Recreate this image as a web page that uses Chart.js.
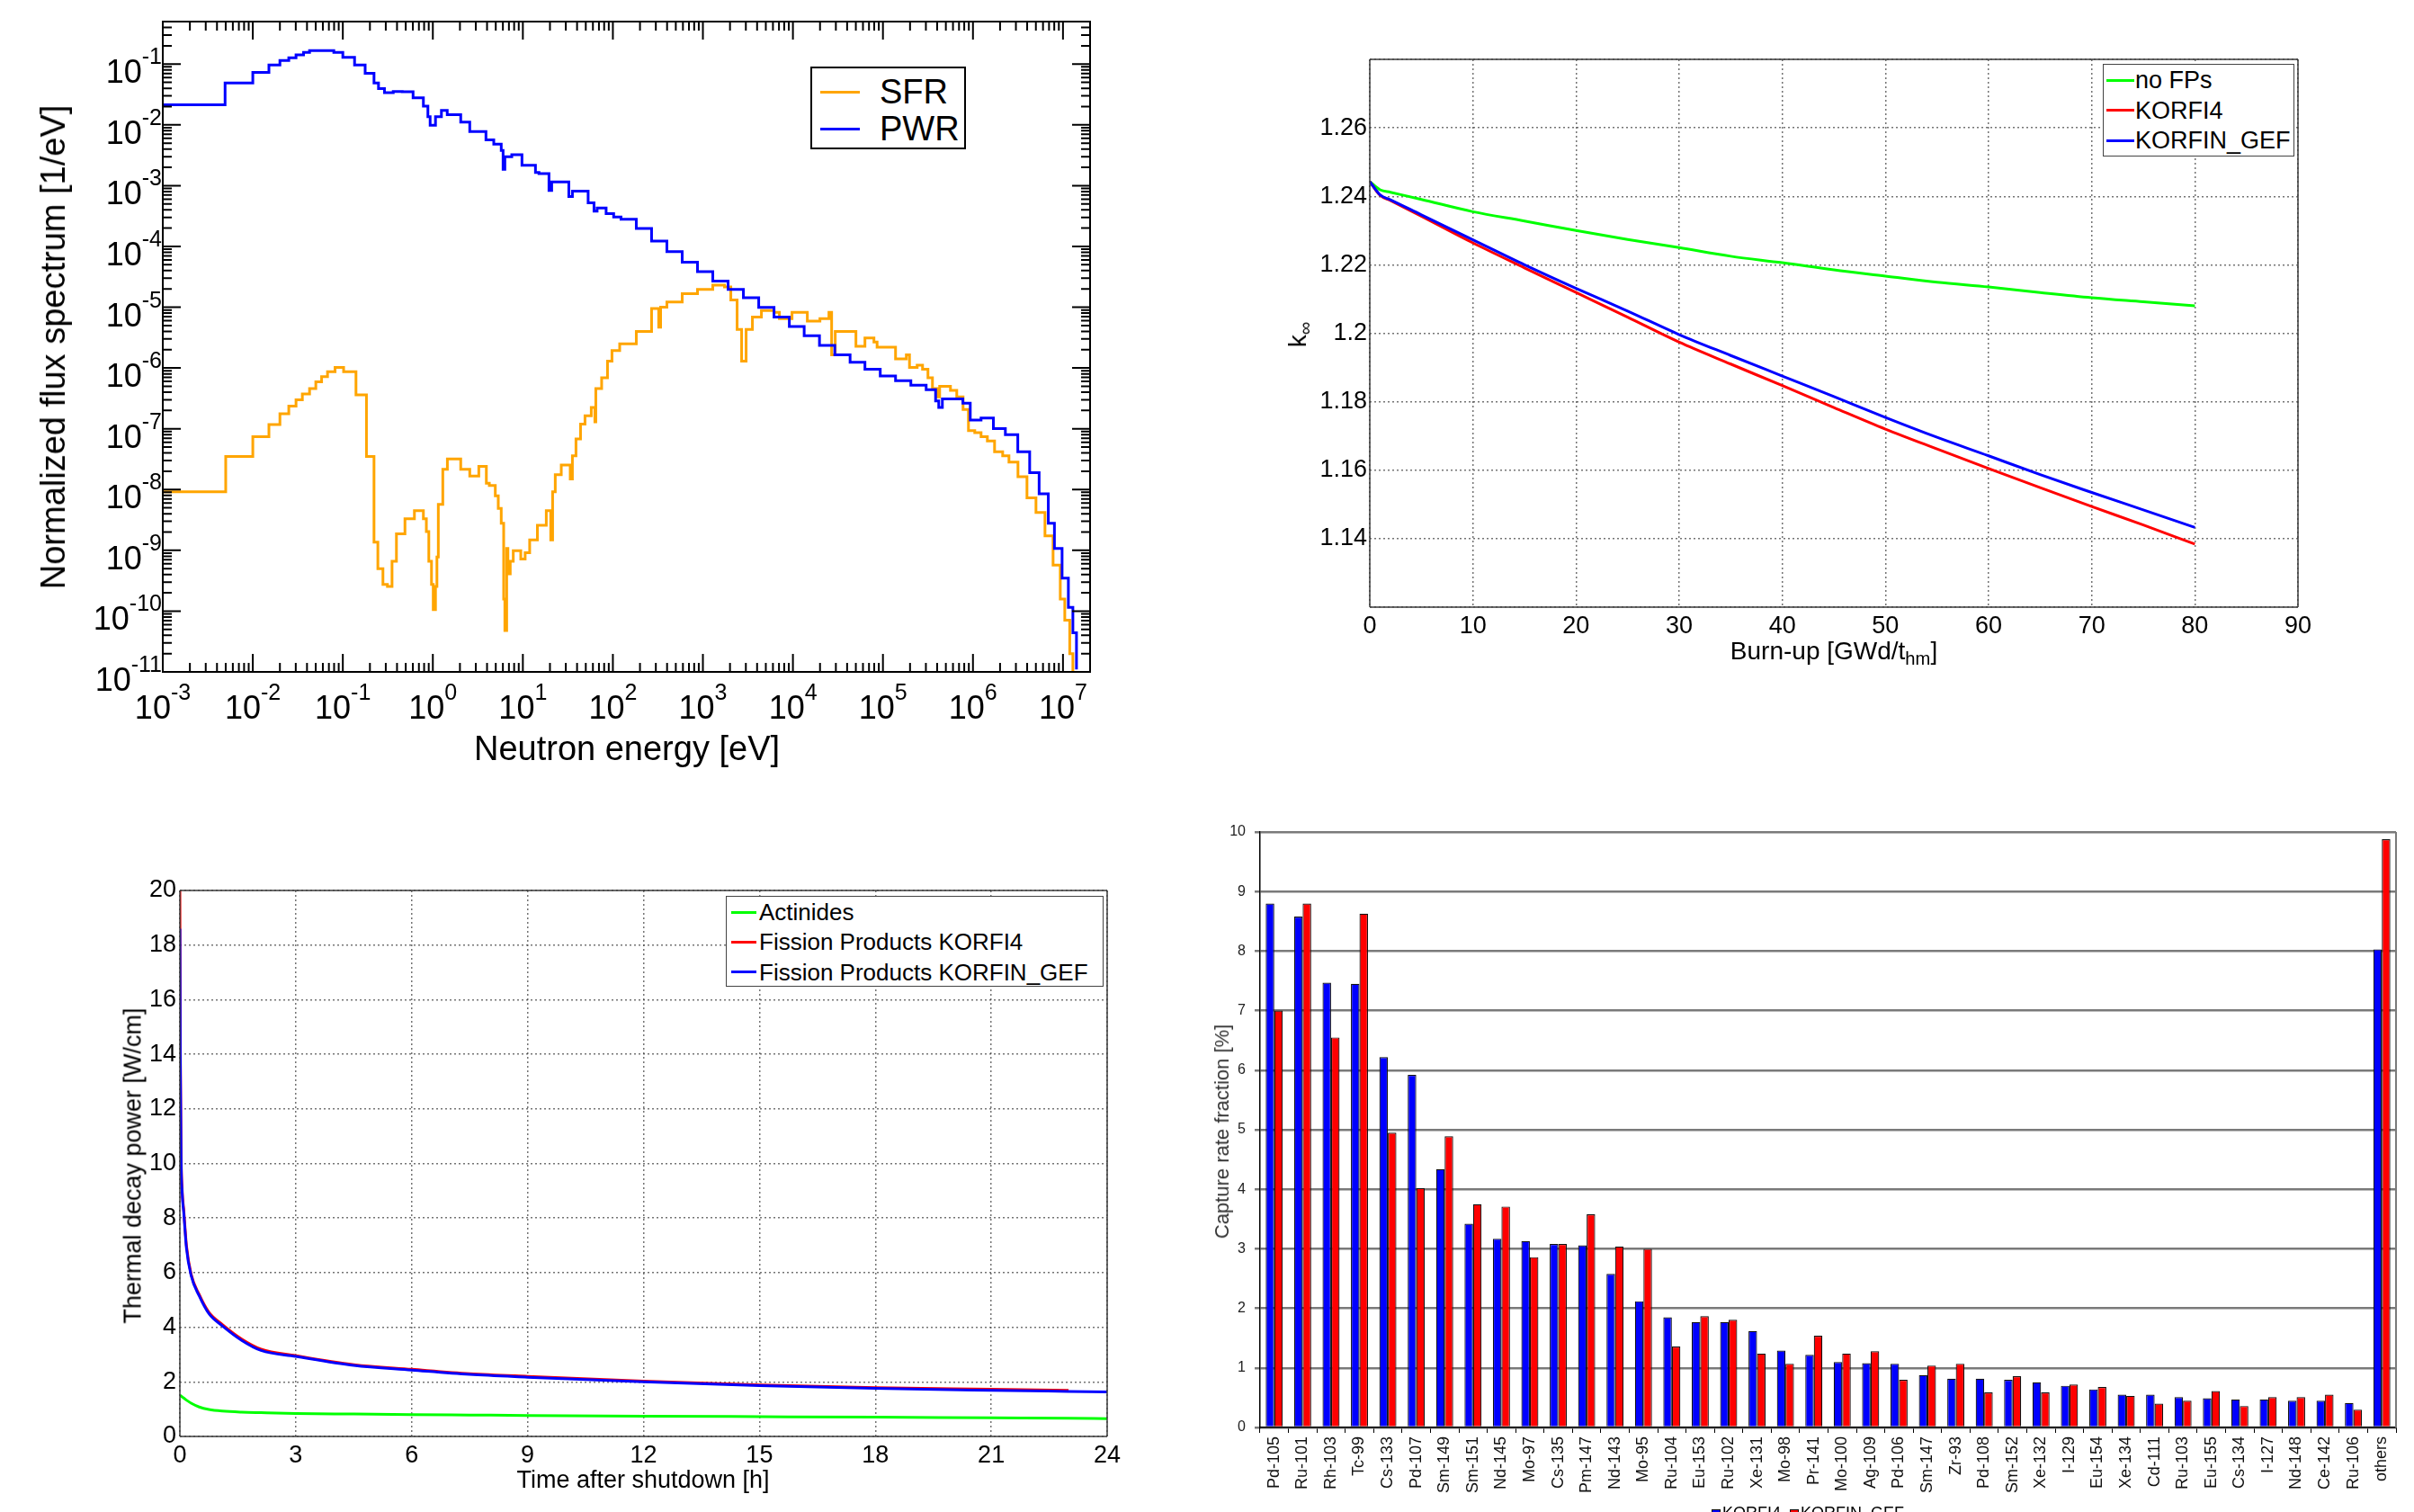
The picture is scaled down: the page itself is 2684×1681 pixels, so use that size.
<!DOCTYPE html>
<html>
<head>
<meta charset="utf-8">
<script src="https://cdn.jsdelivr.net/npm/chart.js@4.4.1/dist/chart.umd.min.js"></script>
<style>
  html, body { margin: 0; padding: 0; background: #fff; }
  body {
    width: 2684px; height: 1681px; position: relative; overflow: hidden;
    font-family: "Liberation Sans", Arial, Helvetica, sans-serif; color: #000;
  }
  canvas { position: absolute; }
  .lbl { position: absolute; white-space: nowrap; line-height: 1; }
  .ctr { transform: translate(-50%, -50%); }
  .rot { transform: translate(-50%, -50%) rotate(-90deg); }
  .legend { position: absolute; background: #fff; box-sizing: border-box; }
  .lg-row { position: absolute; left: 0; right: 0; height: 0; }
  .lg-row span { position: absolute; }
  .lg-text { top: 0; transform: translateY(-50%); line-height: 1; white-space: nowrap; }
  sub { font-size: 0.72em; vertical-align: -0.32em; line-height: 0; }
</style>
</head>
<body>

<canvas id="flux" width="1240" height="870" style="left:0;top:0;width:1240px;height:870px"></canvas>
<canvas id="keff" width="1300" height="740" style="left:1380px;top:30px;width:1300px;height:740px"></canvas>
<canvas id="decay" width="1150" height="721" style="left:100px;top:960px;width:1150px;height:721px"></canvas>
<canvas id="capture" width="1364" height="781" style="left:1320px;top:900px;width:1364px;height:781px"></canvas>

<!-- axis titles -->
<div class="lbl rot" style="left:59px;top:386px;font-size:38px">Normalized flux spectrum [1/eV]</div>
<div class="lbl ctr" style="left:697px;top:832px;font-size:38px">Neutron energy [eV]</div>

<div class="lbl rot" style="left:1443px;top:372px;font-size:28px">k<sub>∞</sub></div>
<div class="lbl ctr" style="left:2039px;top:724px;font-size:28px">Burn-up [GWd/t<sub>hm</sub>]</div>

<div class="lbl rot" style="left:148px;top:1296px;font-size:27px">Thermal decay power [W/cm]</div>
<div class="lbl ctr" style="left:715px;top:1645px;font-size:27px">Time after shutdown [h]</div>

<div class="lbl rot" style="left:1359px;top:1258px;font-size:22px;color:#333">Capture rate fraction [%]</div>

<div id="lg-flux" class="legend" style="left:901px;top:74px;width:173px;height:92px;border:2px solid #000"></div>
<div id="lg-keff" class="legend" style="left:2338px;top:71px;width:213px;height:103px;border:1.5px solid #444"></div>
<div id="lg-decay" class="legend" style="left:807px;top:996px;width:420px;height:101px;border:1.5px solid #444"></div>
<div id="lg-capture" class="lbl" style="left:1903px;top:1673px;font-size:18px"></div>

<script>
// ---- flux spectrum (eV, 1/eV), bin start energies for a step histogram ----
const fluxXDecades = [-3, -2, -1, 0, 1, 2, 3, 4, 5, 6, 7];
const fluxYDecades = [-11, -10, -9, -8, -7, -6, -5, -4, -3, -2, -1];

const sfrEnergy = [
  1e-3, 5.0e-3, 1e-2, 1.51e-2, 2.0e-2, 2.51e-2, 3.02e-2, 3.55e-2, 4.27e-2, 5.01e-2,
  5.81e-2, 6.76e-2, 8.2e-2, 0.102, 0.14, 0.183, 0.222, 0.245, 0.279, 0.313,
  0.352, 0.394, 0.49, 0.624, 0.785, 0.847, 0.902, 0.966, 1.01, 1.07,
  1.11, 1.15, 1.29, 1.45, 2.04, 2.57, 3.24, 3.93, 4.24, 4.94,
  5.33, 5.75, 6.12, 6.31, 6.61, 6.82, 7.24, 7.82, 9.48, 10.6,
  11.9, 14.5, 18.2, 20.4, 21.4, 22.9, 26.7, 33.6, 35.5, 38.9,
  43.7, 49.0, 57.5, 63.1, 64.6, 75, 87.1, 97.7, 119, 182,
  269, 323, 339, 398, 589, 871, 1288, 1738, 2042, 2399,
  2692, 3020, 3548, 4467, 6166, 7079, 9772, 14454, 19953, 25119,
  26915, 29512, 50119, 63096, 79433, 86099, 138038, 181970, 197242, 239883,
  275423, 316228, 354813, 398107, 426580, 562341, 660693, 776247, 891251, 1047129,
  1230269, 1445440, 1737801, 2137962, 2511886, 3162278, 3981072, 5011872, 6309573, 7762471,
  9332543, 10471285, 11885022, 12882496
];
const sfrFlux = [
  9.2e-9, 3.5e-8, 7.4e-8, 1.17e-7, 1.77e-7, 2.36e-7, 3.0e-7, 3.75e-7, 4.6e-7, 5.9e-7,
  7.2e-7, 8.7e-7, 1.02e-6, 8.7e-7, 3.6e-7, 3.5e-8, 1.36e-9, 5.0e-10, 2.76e-10, 2.55e-10,
  6.6e-10, 1.87e-9, 3.3e-9, 4.5e-9, 3.3e-9, 2.03e-9, 6.6e-10, 2.76e-10, 1.06e-10, 2.55e-10,
  7.8e-10, 5.7e-9, 2.15e-8, 3.2e-8, 2.15e-8, 1.67e-8, 2.41e-8, 1.27e-8, 1.17e-8, 7.9e-9,
  4.9e-9, 2.8e-9, 1.58e-10, 4.8e-11, 1.07e-9, 4.1e-10, 6.6e-10, 9.9e-10, 7.2e-10, 9.1e-10,
  1.48e-9, 2.58e-9, 4.5e-9, 1.48e-9, 9.2e-9, 1.75e-8, 2.53e-8, 1.49e-8, 3.6e-8, 6.8e-8,
  1.19e-7, 1.63e-7, 2.25e-7, 1.3e-7, 4.6e-7, 6.9e-7, 1.3e-6, 1.94e-6, 2.5e-6, 4.0e-6,
  9.5e-6, 4.7e-6, 1.0e-5, 1.22e-5, 1.67e-5, 1.96e-5, 2.3e-5, 2.15e-5, 1.32e-5, 4.3e-6,
  1.3e-6, 4.3e-6, 6.9e-6, 8.8e-6, 8.2e-6, 6.5e-6, 8.2e-6, 5.9e-6, 6.5e-6, 8.2e-6,
  1.65e-6, 4.0e-6, 2.27e-6, 3.13e-6, 2.67e-6, 2.2e-6, 1.41e-6, 1.65e-6, 1.02e-6, 1.11e-6,
  9.5e-7, 6.9e-7, 4.6e-7, 3.35e-7, 5.0e-7, 4.3e-7, 3.35e-7, 2.07e-7, 9.3e-8, 8.6e-8,
  7.4e-8, 6.3e-8, 4.2e-8, 3.6e-8, 2.83e-8, 1.62e-8, 7.3e-9, 4.2e-9, 1.73e-9, 5.7e-10,
  1.58e-10, 7.1e-11, 2.0e-11, 1e-11
];

const pwrEnergy = [
  1e-3, 4.92e-3, 1e-2, 1.51e-2, 2.0e-2, 2.51e-2, 3.02e-2, 3.66e-2, 4.27e-2, 7.94e-2,
  0.1, 0.135, 0.177, 0.222, 0.249, 0.29, 0.363, 0.457, 0.603, 0.785,
  0.881, 0.933, 1.07, 1.245, 1.445, 2.04, 2.57, 3.89, 4.75, 5.75,
  6.03, 6.31, 7.53, 9.77, 13.8, 15.1, 19.5, 20.9, 32.4, 35.5,
  53.1, 61.7, 66.8, 84.1, 102, 123, 182, 269, 398, 589,
  871, 1288, 1905, 2818, 4169, 6166, 9120, 13335, 19724, 29174,
  43152, 63096, 93325, 138038, 204174, 301995, 384592, 416869, 457088, 772681,
  933254, 1230269, 1686553, 2290868, 3147748, 4265795, 5432503, 6870684, 8035261, 9772372,
  11481536, 12882496, 14125375
];
const pwrFlux = [
  0.0213, 0.0488, 0.0727, 0.097, 0.115, 0.127, 0.142, 0.156, 0.167, 0.156,
  0.129, 0.097, 0.0705, 0.0488, 0.0396, 0.0338, 0.0355, 0.035, 0.0279, 0.0203,
  0.0136, 0.00988, 0.0136, 0.0173, 0.0147, 0.0111, 0.00778, 0.00566, 0.00482, 0.0038,
  0.00185, 0.00298, 0.00323, 0.00217, 0.00164, 0.00158, 8.3e-4, 1.15e-3, 6.6e-4, 8.1e-4,
  5.2e-4, 3.8e-4, 4.3e-4, 3.47e-4, 3.05e-4, 2.8e-4, 1.98e-4, 1.23e-4, 8.2e-5, 5.5e-5,
  3.84e-5, 2.7e-5, 1.96e-5, 1.43e-5, 9.9e-6, 6.9e-6, 4.8e-6, 3.4e-6, 2.35e-6, 1.65e-6,
  1.24e-6, 9.5e-7, 7.4e-7, 6.2e-7, 5.2e-7, 4.4e-7, 2.86e-7, 2.25e-7, 3.1e-7, 2.63e-7,
  1.39e-7, 1.5e-7, 1.01e-7, 8.0e-8, 4.2e-8, 1.9e-8, 8.5e-9, 2.8e-9, 1.07e-9, 3.5e-10,
  1.15e-10, 4.4e-11, 1.1e-11
];

// ---- k-infinity vs burn-up ----
const burnup = [0, 1, 2, 5, 10, 15, 20, 25, 30, 35, 40, 45, 50, 55, 60, 65, 70, 75, 80];
const kNoFp = [1.2443, 1.2419, 1.2412, 1.2391, 1.2355, 1.2328, 1.2300, 1.2274, 1.2250, 1.2225,
  1.2206, 1.2185, 1.2167, 1.2149, 1.2135, 1.2119, 1.2104, 1.2092, 1.2080];
const kKorfi4 = [1.2443, 1.2403, 1.2388, 1.2342, 1.2264, 1.2191, 1.2119, 1.2047, 1.1974, 1.1910,
  1.1847, 1.1783, 1.1720, 1.1662, 1.1605, 1.1549, 1.1494, 1.1440, 1.1384];
const kKorfinGef = [1.2443, 1.2404, 1.2390, 1.2346, 1.2273, 1.2200, 1.2131, 1.2065, 1.1996, 1.1935,
  1.1875, 1.1815, 1.1754, 1.1696, 1.1642, 1.1587, 1.1535, 1.1484, 1.1433];

// ---- decay power after shutdown ----
const decayTime = [0, 0.01, 0.03, 0.06, 0.1, 0.17, 0.29, 0.5, 0.75, 1.1, 1.6, 2.1, 3, 4.5, 6, 7.5, 9, 12, 15, 18, 21, 23, 24];
const decayActinides = [1.51, 1.5, 1.48, 1.45, 1.41, 1.33, 1.22, 1.08, 0.99, 0.93, 0.89, 0.87, 0.84,
  0.82, 0.80, 0.785, 0.77, 0.745, 0.725, 0.705, 0.68, 0.665, 0.65];
const decayFpKorfi4 = [20, 14.5, 10.5, 9.0, 8.3, 7.0, 5.95, 5.2, 4.55, 4.1, 3.57, 3.2, 2.96,
  2.63, 2.46, 2.3, 2.2, 2.03, 1.89, 1.79, 1.73, 1.69, null];
const decayFpKorfinGef = [18.6, 14, 10.3, 8.9, 8.2, 6.9, 5.9, 5.15, 4.5, 4.05, 3.52, 3.15, 2.93,
  2.6, 2.43, 2.27, 2.17, 2.0, 1.86, 1.76, 1.69, 1.65, 1.63];

// ---- capture rate fractions [%] ----
const captureLabels = ['Pd-105', 'Ru-101', 'Rh-103', 'Tc-99', 'Cs-133', 'Pd-107', 'Sm-149', 'Sm-151',
  'Nd-145', 'Mo-97', 'Cs-135', 'Pm-147', 'Nd-143', 'Mo-95', 'Ru-104', 'Eu-153', 'Ru-102', 'Xe-131',
  'Mo-98', 'Pr-141', 'Mo-100', 'Ag-109', 'Pd-106', 'Sm-147', 'Zr-93', 'Pd-108', 'Sm-152', 'Xe-132',
  'I-129', 'Eu-154', 'Xe-134', 'Cd-111', 'Ru-103', 'Eu-155', 'Cs-134', 'I-127', 'Nd-148', 'Ce-142',
  'Ru-106', 'others'];
const captureKorfi4 = [8.80, 8.58, 7.47, 7.45, 6.22, 5.92, 4.34, 3.42, 3.17, 3.13,
  3.08, 3.06, 2.58, 2.12, 1.85, 1.77, 1.77, 1.62, 1.29, 1.22,
  1.10, 1.08, 1.07, 0.88, 0.82, 0.82, 0.80, 0.76, 0.70, 0.64,
  0.55, 0.55, 0.51, 0.49, 0.47, 0.47, 0.45, 0.45, 0.41, 8.03];
const captureKorfinGef = [7.0, 8.80, 6.55, 8.63, 4.95, 4.02, 4.89, 3.75, 3.71, 2.86,
  3.08, 3.58, 3.04, 3.0, 1.36, 1.87, 1.81, 1.24, 1.07, 1.54,
  1.24, 1.28, 0.80, 1.04, 1.07, 0.59, 0.86, 0.59, 0.72, 0.68,
  0.53, 0.40, 0.45, 0.61, 0.36, 0.51, 0.51, 0.55, 0.30, 9.88];

const FONT = '"Liberation Sans", Arial, Helvetica, sans-serif';
Chart.defaults.font.family = FONT;
Chart.defaults.color = '#000';

function toPoints(xs, ys) {
  return xs.map(function (x, i) { return { x: x, y: ys[i] }; });
}

// force axis box sizes so the plot area sits where the original has it
function fixBox(w, h) {
  return function (scale) {
    if (w !== null) scale.width = w;
    if (h !== null) scale.height = h;
    scale.paddingLeft = 0;
    scale.paddingRight = 0;
    scale.paddingTop = 0;
    scale.paddingBottom = 0;
  };
}

function drawPow(ctx, exp, px, base, align) {
  const es = String(exp);
  ctx.font = '36px ' + FONT;
  const wb = ctx.measureText('10').width;
  ctx.font = '25px ' + FONT;
  const we = ctx.measureText(es).width;
  const left = align === 'center' ? px - (wb + we) / 2 : px - (wb + we);
  ctx.font = '36px ' + FONT;
  ctx.fillText('10', left, base);
  ctx.font = '25px ' + FONT;
  ctx.fillText(es, left + wb, base - 21);
}

// Grace-style frame: inward log ticks on all four sides + 10^n labels
const logFrame = {
  id: 'logFrame',
  afterDraw(chart) {
    const ctx = chart.ctx;
    const a = chart.chartArea;
    const x = chart.scales.x;
    const y = chart.scales.y;
    ctx.save();
    ctx.strokeStyle = '#000';
    ctx.lineWidth = 2;
    ctx.beginPath();
    fluxXDecades.forEach(function (d) {
      for (let m = 1; m <= 9; m++) {
        const v = m * Math.pow(10, d);
        if (v < x.min * 1.001 || v > x.max * 0.999) continue;
        const px = x.getPixelForValue(v);
        const len = m === 1 ? 20 : 10;
        ctx.moveTo(px, a.bottom); ctx.lineTo(px, a.bottom - len);
        ctx.moveTo(px, a.top); ctx.lineTo(px, a.top + len);
      }
    });
    fluxYDecades.forEach(function (d) {
      for (let m = 1; m <= 9; m++) {
        const v = m * Math.pow(10, d);
        if (v < y.min * 1.001 || v > y.max * 0.999) continue;
        const py = y.getPixelForValue(v);
        const len = m === 1 ? 20 : 10;
        ctx.moveTo(a.left, py); ctx.lineTo(a.left + len, py);
        ctx.moveTo(a.right, py); ctx.lineTo(a.right - len, py);
      }
    });
    ctx.stroke();
    ctx.strokeRect(a.left, a.top, a.right - a.left, a.bottom - a.top);

    ctx.fillStyle = '#000';
    ctx.textAlign = 'left';
    ctx.textBaseline = 'alphabetic';
    fluxXDecades.forEach(function (d) {
      drawPow(ctx, d, x.getPixelForValue(Math.pow(10, d)), a.bottom + 52, 'center');
    });
    fluxYDecades.forEach(function (d) {
      drawPow(ctx, d, a.left - 1, y.getPixelForValue(Math.pow(10, d)) + 21, 'right');
    });
    ctx.restore();
  }
};

const boxFrame = {
  id: 'boxFrame',
  afterDraw(chart, args, opts) {
    const ctx = chart.ctx;
    const a = chart.chartArea;
    ctx.save();
    ctx.strokeStyle = opts.color || '#000';
    ctx.lineWidth = opts.width || 1;
    ctx.beginPath();
    (opts.sides || ['top', 'right', 'bottom', 'left']).forEach(function (s) {
      if (s === 'top') { ctx.moveTo(a.left, a.top); ctx.lineTo(a.right, a.top); }
      if (s === 'right') { ctx.moveTo(a.right, a.top); ctx.lineTo(a.right, a.bottom); }
      if (s === 'bottom') { ctx.moveTo(a.left, a.bottom); ctx.lineTo(a.right, a.bottom); }
      if (s === 'left') { ctx.moveTo(a.left, a.top); ctx.lineTo(a.left, a.bottom); }
    });
    ctx.stroke();
    ctx.restore();
  }
};

function buildLegend(id, datasets, o) {
  const box = document.getElementById(id);
  datasets.forEach(function (ds, i) {
    const row = document.createElement('div');
    row.className = 'lg-row';
    row.style.top = (o.firstRow + i * o.rowGap) + 'px';
    const line = document.createElement('span');
    line.style.left = o.lineLeft + 'px';
    line.style.width = o.lineWidth + 'px';
    line.style.top = '-1.5px';
    line.style.height = '3px';
    line.style.background = ds.borderColor;
    const text = document.createElement('span');
    text.className = 'lg-text';
    text.style.left = o.textLeft + 'px';
    text.style.fontSize = o.font + 'px';
    text.textContent = ds.label;
    row.append(line, text);
    box.appendChild(row);
  });
}

const baseOpts = {
  responsive: false,
  animation: false,
  events: [],
  plugins: { legend: { display: false }, tooltip: { enabled: false } }
};

// ---------- top left: flux spectrum ----------
const fluxSets = [
  { label: 'SFR', data: toPoints(sfrEnergy, sfrFlux), borderColor: '#ffa500', order: 1 },
  { label: 'PWR', data: toPoints(pwrEnergy, pwrFlux), borderColor: '#0000ff', order: 0 }
];
fluxSets.forEach(function (ds) {
  // each value holds from its own energy up to the next one
  ds.borderWidth = 3; ds.stepped = 'before'; ds.pointRadius = 0; ds.fill = false;
});
new Chart(document.getElementById('flux'), {
  type: 'line',
  data: { datasets: fluxSets },
  options: Object.assign({}, baseOpts, {
    layout: { padding: { top: 24, right: 28, left: 0, bottom: 0 } },
    scales: {
      x: {
        type: 'logarithmic', min: 1e-3, max: 2e7,
        grid: { display: false }, border: { display: false }, ticks: { display: false },
        afterFit: fixBox(null, 123)
      },
      y: {
        type: 'logarithmic', min: 1e-11, max: 0.5,
        grid: { display: false }, border: { display: false }, ticks: { display: false },
        afterFit: fixBox(181, null)
      }
    }
  }),
  plugins: [logFrame]
});
buildLegend('lg-flux', fluxSets, { firstRow: 26, rowGap: 41, lineLeft: 9, lineWidth: 44, textLeft: 75, font: 38 });

// ---------- top right: k-inf ----------
const dotted = { color: 'rgba(70,70,70,0.75)', lineWidth: 1.5, drawTicks: false };
const keffSets = [
  { label: 'no FPs', data: toPoints(burnup, kNoFp), borderColor: '#00ff00', order: 2 },
  { label: 'KORFI4', data: toPoints(burnup, kKorfi4), borderColor: '#ff0000', order: 1 },
  { label: 'KORFIN_GEF', data: toPoints(burnup, kKorfinGef), borderColor: '#0000ff', order: 0 }
];
keffSets.forEach(function (ds) {
  ds.borderWidth = 3; ds.pointRadius = 0; ds.fill = false; ds.cubicInterpolationMode = 'monotone';
});
new Chart(document.getElementById('keff'), {
  type: 'line',
  data: { datasets: keffSets },
  options: Object.assign({}, baseOpts, {
    layout: { padding: { top: 36, right: 125, left: 0, bottom: 0 } },
    plugins: Object.assign({}, baseOpts.plugins, { boxFrame: { color: '#3a3a3a', width: 1.5 } }),
    scales: {
      x: {
        type: 'linear', min: 0, max: 90,
        ticks: { stepSize: 10, font: { size: 27 }, padding: 5 },
        grid: dotted, border: { display: false, dash: [2, 3] },
        afterFit: fixBox(null, 95)
      },
      y: {
        type: 'linear', min: 1.12, max: 1.28,
        ticks: {
          stepSize: 0.02, font: { size: 27 }, padding: 3,
          callback: function (v) {
            if (Math.abs(v - 1.12) < 1e-6 || Math.abs(v - 1.28) < 1e-6) return '';
            return String(+v.toFixed(2));
          }
        },
        grid: dotted, border: { display: false, dash: [2, 3] },
        afterFit: fixBox(143, null)
      }
    }
  }),
  plugins: [boxFrame]
});
buildLegend('lg-keff', keffSets, { firstRow: 17, rowGap: 33.5, lineLeft: 3, lineWidth: 31, textLeft: 35, font: 27 });

// ---------- bottom left: decay power ----------
const decaySets = [
  { label: 'Actinides', data: toPoints(decayTime, decayActinides), borderColor: '#00ff00', order: 2 },
  { label: 'Fission Products KORFI4', data: toPoints(decayTime, decayFpKorfi4), borderColor: '#ff0000', order: 1 },
  { label: 'Fission Products KORFIN_GEF', data: toPoints(decayTime, decayFpKorfinGef), borderColor: '#0000ff', order: 0 }
];
decaySets.forEach(function (ds) {
  ds.borderWidth = 3; ds.pointRadius = 0; ds.fill = false; ds.cubicInterpolationMode = 'monotone';
});
new Chart(document.getElementById('decay'), {
  type: 'line',
  data: { datasets: decaySets },
  options: Object.assign({}, baseOpts, {
    layout: { padding: { top: 30, right: 19, left: 0, bottom: 0 } },
    plugins: Object.assign({}, baseOpts.plugins, { boxFrame: { color: '#3a3a3a', width: 1.5 } }),
    scales: {
      x: {
        type: 'linear', min: 0, max: 24,
        ticks: { stepSize: 3, font: { size: 27 }, padding: 5 },
        grid: dotted, border: { display: false, dash: [2, 3] },
        afterFit: fixBox(null, 84)
      },
      y: {
        type: 'linear', min: 0, max: 20,
        ticks: { stepSize: 2, font: { size: 27 }, padding: 4 },
        grid: dotted, border: { display: false, dash: [2, 3] },
        afterFit: fixBox(100, null)
      }
    }
  }),
  plugins: [boxFrame]
});
buildLegend('lg-decay', decaySets, { firstRow: 17, rowGap: 33.3, lineLeft: 5, lineWidth: 28, textLeft: 36, font: 26 });

// ---------- bottom right: capture fractions ----------
new Chart(document.getElementById('capture'), {
  type: 'bar',
  data: {
    labels: captureLabels,
    datasets: [
      { label: 'KORFI4', data: captureKorfi4, backgroundColor: '#0000ff' },
      { label: 'KORFIN_GEF', data: captureKorfinGef, backgroundColor: '#ff0000' }
    ].map(function (ds) {
      return Object.assign(ds, { borderColor: '#111', borderWidth: 1.2, barPercentage: 1, categoryPercentage: 0.6 });
    })
  },
  options: Object.assign({}, baseOpts, {
    layout: { padding: { top: 25, right: 20, left: 0, bottom: 0 } },
    plugins: Object.assign({}, baseOpts.plugins, { boxFrame: { color: '#7a7a7a', width: 2, sides: ['right'] } }),
    scales: {
      x: {
        ticks: { font: { size: 18 }, color: '#111', minRotation: 90, maxRotation: 90, autoSkip: false, padding: 4 },
        grid: { drawOnChartArea: false, drawTicks: true, tickLength: 6, color: '#000', offset: true },
        border: { display: true, color: '#000', width: 1.5 },
        afterFit: fixBox(null, 94)
      },
      y: {
        min: 0, max: 10,
        ticks: { stepSize: 1, font: { size: 16 }, color: '#222', padding: 10 },
        grid: { color: '#7a7a7a', lineWidth: 2.5, tickLength: 6 },
        border: { display: true, color: '#000', width: 1.5 },
        afterFit: fixBox(81, null)
      }
    }
  }),
  plugins: [boxFrame]
});

(function () {
  const el = document.getElementById('lg-capture');
  [['KORFI4', '#0000ff'], ['KORFIN_GEF', '#ff0000']].forEach(function (it, i) {
    const sq = document.createElement('span');
    sq.style.cssText = 'display:inline-block;width:8px;height:8px;border:1px solid #111;margin-right:2px;background:' + it[1] + (i ? ';margin-left:10px' : '');
    const tx = document.createElement('span');
    tx.textContent = it[0];
    el.append(sq, tx);
  });
})();
</script>
</body>
</html>
